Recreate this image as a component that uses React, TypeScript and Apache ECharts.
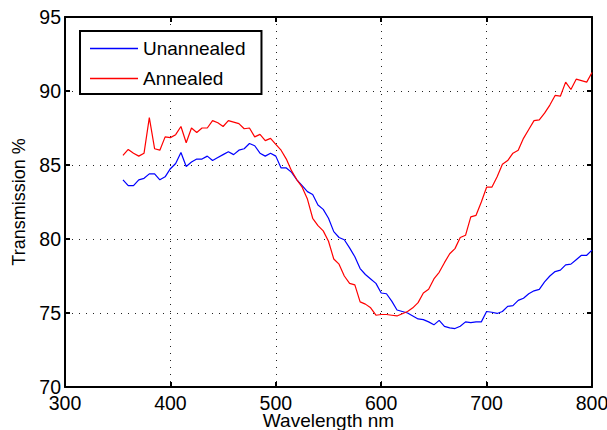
import React, { useEffect, useRef } from "react";
import * as echarts from "echarts";

// Wavelength samples (nm), 5 nm steps
const wavelengths: number[] = [];
for (let w = 355; w <= 800; w += 5) wavelengths.push(w);

const unannealed = [
  84.0, 83.6, 83.6, 84.0, 84.1, 84.4, 84.4, 84.0, 84.2, 84.75,
  85.1, 85.85, 84.9, 85.2, 85.4, 85.4, 85.6, 85.3, 85.5, 85.7,
  85.9, 85.7, 86.0, 86.1, 86.45, 86.3, 85.8, 85.6, 85.8, 85.6,
  84.8, 84.8, 84.5, 84.0, 83.6, 83.2, 83.0, 82.3, 82.0, 81.4,
  80.5, 80.1, 79.95, 79.4, 78.8, 78.0, 77.6, 77.3, 77.0, 76.35,
  76.3, 75.8, 75.2, 75.1, 75.0, 74.8, 74.6, 74.55, 74.4, 74.2,
  74.5, 74.1, 74.0, 73.95, 74.1, 74.4, 74.35, 74.4, 74.4, 75.1,
  75.05, 74.97, 75.1, 75.45, 75.5, 75.85, 76.0, 76.3, 76.5, 76.6,
  77.1, 77.5, 77.8, 77.9, 78.25, 78.3, 78.6, 78.9, 78.9, 79.25,
];

const annealed = [
  85.65, 86.05, 85.8, 85.6, 85.8, 88.2, 86.1, 86.0, 86.9, 86.85,
  87.05, 87.6, 86.5, 87.5, 87.2, 87.5, 87.5, 88.0, 87.85, 87.6,
  88.0, 87.9, 87.8, 87.45, 87.5, 86.9, 87.07, 86.65, 86.8, 86.4,
  86.0, 85.4, 84.6, 84.0, 83.5, 82.7, 81.4, 80.9, 80.55, 79.85,
  78.65, 78.3, 77.5, 77.0, 76.9, 75.75, 75.6, 75.35, 74.85, 74.9,
  74.9, 74.85, 74.8, 74.95, 75.1, 75.35, 75.7, 76.35, 76.6, 77.3,
  77.75, 78.4, 79.0, 79.35, 80.1, 80.25, 81.5, 81.6, 82.5, 83.5,
  83.5, 84.2, 85.05, 85.3, 85.8, 86.0, 86.8, 87.4, 88.0, 88.05,
  88.5, 89.05, 89.7, 89.65, 90.6, 90.1, 90.8, 90.7, 90.6, 91.25,
];

const seriesNames = ["Unannealed", "Annealed"];
const xRange = { min: 300, max: 800, step: 100 };
const yRange = { min: 70, max: 95, step: 5 };

const FONT = "Liberation Sans, Arial, Helvetica, sans-serif";

export default function App() {
  const ref = useRef<HTMLDivElement>(null);

  useEffect(() => {
    if (!ref.current) return;
    const chart = echarts.init(ref.current, undefined, { renderer: "svg" });

    const toPairs = (vals: number[]) => wavelengths.map((w, i) => [w, vals[i]]);
    const box = { show: true, lineStyle: { color: "#000", width: 2 } };
    const inTick = { show: true, inside: true, length: 5, lineStyle: { color: "#000", width: 2 } };
    const dotted = { show: true, lineStyle: { color: "#222", width: 1, type: [1, 6] as number[] } };

    chart.setOption({
      animation: false,
      backgroundColor: "#fff",
      textStyle: { fontFamily: FONT },
      grid: {
        left: 65,
        right: 15,
        top: 17,
        bottom: 43,
        containLabel: false,
        outerBoundsMode: "none",
      },
      legend: {
        orient: "vertical",
        left: 80,
        top: 31,
        data: seriesNames.map((name) => ({ name, icon: "rect" })),
        backgroundColor: "#fff",
        borderColor: "#000",
        borderWidth: 2,
        padding: [8, 16, 6, 10],
        itemWidth: 48,
        itemHeight: 1.4,
        itemGap: 11,
        textStyle: { fontSize: 19, color: "#000", fontFamily: FONT },
      },
      xAxis: [
        {
          type: "value",
          min: xRange.min,
          max: xRange.max,
          interval: xRange.step,
          name: "Wavelength nm",
          nameLocation: "middle",
          nameGap: 24,
          nameMoveOverlap: false,
          nameTextStyle: { fontSize: 19, color: "#000", fontFamily: FONT },
          axisLine: box,
          axisTick: inTick,
          axisLabel: { color: "#000", fontSize: 19.5, margin: 6, fontFamily: FONT },
          splitLine: dotted,
        },
        {
          type: "value",
          position: "top",
          min: xRange.min,
          max: xRange.max,
          interval: xRange.step,
          axisLine: box,
          axisTick: inTick,
          axisLabel: { show: false },
          splitLine: { show: false },
        },
      ],
      yAxis: [
        {
          type: "value",
          min: yRange.min,
          max: yRange.max,
          interval: yRange.step,
          name: "Transmission %",
          nameLocation: "middle",
          nameGap: 37,
          nameMoveOverlap: false,
          nameTextStyle: { fontSize: 18, color: "#000", fontFamily: FONT },
          axisLine: box,
          axisTick: inTick,
          axisLabel: { color: "#000", fontSize: 19.5, margin: 4, fontFamily: FONT },
          splitLine: dotted,
        },
        {
          type: "value",
          position: "right",
          min: yRange.min,
          max: yRange.max,
          interval: yRange.step,
          axisLine: box,
          axisTick: inTick,
          axisLabel: { show: false },
          splitLine: { show: false },
        },
      ],
      series: [
        {
          name: seriesNames[0],
          type: "line",
          data: toPairs(unannealed),
          symbol: "none",
          lineStyle: { color: "#0000ff", width: 1.2 },
          itemStyle: { color: "#0000ff" },
        },
        {
          name: seriesNames[1],
          type: "line",
          data: toPairs(annealed),
          symbol: "none",
          lineStyle: { color: "#ff0000", width: 1.2 },
          itemStyle: { color: "#ff0000" },
        },
      ],
    });

    return () => chart.dispose();
  }, []);

  return (
    <div
      ref={ref}
      style={{ position: "fixed", left: 0, top: 0, width: 607, height: 430 }}
    />
  );
}
